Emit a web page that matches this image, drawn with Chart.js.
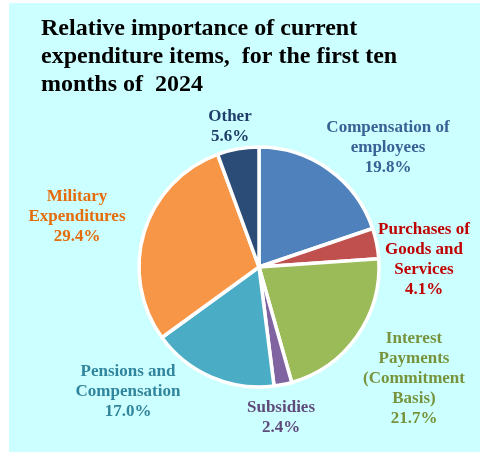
<!DOCTYPE html>
<html>
<head>
<meta charset="utf-8">
<script src="https://cdn.jsdelivr.net/npm/chart.js@4.4.1/dist/chart.umd.min.js"></script>
<style>
  html, body { margin: 0; padding: 0; background: #ffffff; }
  #wrap { position: absolute; left: 9px; top: 3px; width: 471px; height: 449px; background: #ccffff; }
  canvas { display: block; }
</style>
</head>
<body>
<div id="wrap"><canvas id="pie" width="471" height="449"></canvas></div>
<script>
  // current expenditure shares, Jan-Oct 2024 (%)
  const categories = [
    "Compensation of employees",
    "Purchases of Goods and Services",
    "Interest Payments (Commitment Basis)",
    "Subsidies",
    "Pensions and Compensation",
    "Military Expenditures",
    "Other"
  ];
  const shares = [19.8, 4.1, 21.7, 2.4, 17.0, 29.4, 5.6];
  const labelLines = [
    ["Compensation of", "employees"],
    ["Purchases of", "Goods and", "Services"],
    ["Interest", "Payments", "(Commitment", "Basis)"],
    ["Subsidies"],
    ["Pensions and", "Compensation"],
    ["Military", "Expenditures"],
    ["Other"]
  ];
  const titleLines = [
    "Relative importance of current",
    "expenditure items,  for the first ten",
    "months of  2024"
  ];

  const sliceColors = ["#4f81bd", "#c0504d", "#9bbb59", "#8064a2", "#4bacc6", "#f79646", "#2b4c76"];
  const textColors = ["#3a6194", "#c00000", "#77933c", "#604a7b", "#31859c", "#e46c0a", "#1f3f6a"];
  // label block centres, offset from the pie centre
  const labelOffsets = [[129, -119], [165, -7], [155, 112], [22, 151], [-131, 125], [-182, -50], [-29, -140]];

  const serif = '"Liberation Serif", "Times New Roman", serif';

  const titlePlugin = {
    id: "titleText",
    afterDraw(chart) {
      const ctx = chart.ctx;
      ctx.save();
      ctx.fillStyle = "#000";
      ctx.font = "bold 24px " + serif;
      ctx.textAlign = "left";
      ctx.textBaseline = "alphabetic";
      titleLines.forEach((t, i) => ctx.fillText(t, 32, 32 + i * 28));
      ctx.restore();
    }
  };

  const sliceLabels = {
    id: "sliceLabels",
    afterDatasetsDraw(chart) {
      const ctx = chart.ctx;
      const arcs = chart.getDatasetMeta(0).data;
      ctx.save();
      ctx.font = "bold 17px " + serif;
      ctx.textAlign = "center";
      ctx.textBaseline = "middle";
      arcs.forEach((arc, i) => {
        const lines = labelLines[i].concat([shares[i].toFixed(1) + "%"]);
        const cx = arc.x + labelOffsets[i][0];
        const cy = arc.y + labelOffsets[i][1];
        const lh = 20;
        const top = cy - (lines.length - 1) * lh / 2;
        ctx.fillStyle = textColors[i];
        lines.forEach((l, j) => ctx.fillText(l, cx, top + j * lh));
      });
      ctx.restore();
    }
  };

  new Chart(document.getElementById("pie"), {
    type: "pie",
    data: {
      labels: categories,
      datasets: [{
        data: shares,
        backgroundColor: sliceColors,
        borderColor: "#ffffff",
        borderWidth: 3.5,
        hoverOffset: 0
      }]
    },
    options: {
      responsive: false,
      animation: false,
      radius: 120,
      layout: { padding: { left: 120, right: 91, top: 134, bottom: 55 } },
      plugins: {
        legend: { display: false },
        title: { display: false },
        tooltip: { enabled: false }
      }
    },
    plugins: [titlePlugin, sliceLabels]
  });
</script>
</body>
</html>
